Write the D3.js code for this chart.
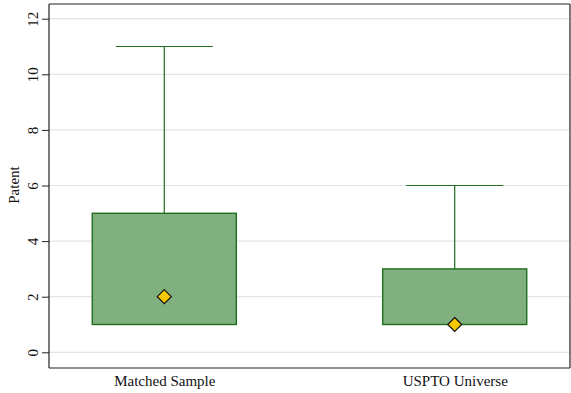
<!DOCTYPE html>
<html>
<head>
<meta charset="utf-8">
<script src="https://cdn.jsdelivr.net/npm/d3@7"></script>
<style>
  html, body { margin: 0; padding: 0; background: #fff; }
  svg { display: block; font-family: "Liberation Serif", "Times New Roman", serif; }
</style>
</head>
<body>
<svg id="chart" width="571" height="393"></svg>
<script>
// Box plot summary per group
const categories = ["Matched Sample", "USPTO Universe"];
const lowerWhisker = [1, 1];
const q1 = [1, 1];
const q3 = [5, 3];
const upperWhisker = [11, 6];
const medians = [2, 1];
const yTicks = [0, 2, 4, 6, 8, 10, 12];

const svg = d3.select("#chart");
const frame = { left: 49, right: 570, top: 4, bottom: 368 };

const y = d3.scaleLinear().domain([0, 12]).range([352.3, 18.7]);
const x = d3.scalePoint().domain(categories).range([frame.left, frame.right]).padding(0.397);
const step = x.step();
const boxW = step * 0.496;
const capW = step * 0.334;

// gridlines
svg.append("g").selectAll("line").data(yTicks).join("line")
  .attr("x1", frame.left).attr("x2", frame.right)
  .attr("y1", d => y(d)).attr("y2", d => y(d))
  .attr("stroke", "#e4e4e4").attr("stroke-width", 1.2);

const data = categories.map((c, i) => ({
  c, lo: lowerWhisker[i], q1: q1[i], q3: q3[i], hi: upperWhisker[i], med: medians[i]
}));

const g = svg.append("g");
const green = "#1e6e1e";

// whiskers
g.selectAll(".whisker").data(data).join("line")
  .attr("x1", d => x(d.c)).attr("x2", d => x(d.c))
  .attr("y1", d => y(d.q3)).attr("y2", d => y(d.hi))
  .attr("stroke", green).attr("stroke-width", 1.2);
g.selectAll(".cap").data(data).join("line")
  .attr("x1", d => x(d.c) - capW / 2).attr("x2", d => x(d.c) + capW / 2)
  .attr("y1", d => y(d.hi)).attr("y2", d => y(d.hi))
  .attr("stroke", green).attr("stroke-width", 1.2);

// boxes
g.selectAll(".box").data(data).join("rect")
  .attr("x", d => x(d.c) - boxW / 2)
  .attr("width", boxW)
  .attr("y", d => y(d.q3))
  .attr("height", d => y(d.q1) - y(d.q3))
  .attr("fill", "#80b080")
  .attr("stroke", green).attr("stroke-width", 1.4);

// median markers
const dia = 7;
g.selectAll(".med").data(data).join("path")
  .attr("d", d => {
    const cx = x(d.c), cy = y(d.med);
    return `M${cx},${cy - dia}L${cx + dia},${cy}L${cx},${cy + dia}L${cx - dia},${cy}Z`;
  })
  .attr("fill", "#f6c800").attr("stroke", "#111").attr("stroke-width", 1.2);

// frame
svg.append("line").attr("x1", frame.left).attr("x2", frame.right)
  .attr("y1", frame.top).attr("y2", frame.top).attr("stroke", "#222").attr("stroke-width", 1.2);
svg.append("line").attr("x1", frame.right).attr("x2", frame.right)
  .attr("y1", frame.top).attr("y2", frame.bottom).attr("stroke", "#222").attr("stroke-width", 1.2);

// y axis
const yAxis = svg.append("g").attr("transform", `translate(${frame.left},0)`)
  .call(d3.axisLeft(y).tickValues(yTicks).tickSize(7).tickPadding(0).tickFormat(d3.format("d")));
yAxis.select(".domain").remove();
yAxis.append("line").attr("x1", 0).attr("x2", 0).attr("y1", frame.top).attr("y2", frame.bottom)
  .attr("stroke", "#222").attr("stroke-width", 1.2);
yAxis.selectAll(".tick line").attr("stroke", "#222");
yAxis.selectAll(".tick text")
  .attr("x", 0).attr("dy", null)
  .attr("transform", "translate(-16.5,0) rotate(-90)")
  .attr("text-anchor", "middle").attr("dominant-baseline", "central")
  .attr("font-size", 15).attr("font-family", "Liberation Serif, serif").attr("fill", "#111");

// x axis
const xAxis = svg.append("g").attr("transform", `translate(0,${frame.bottom})`)
  .call(d3.axisBottom(x).tickSize(0).tickPadding(7));
xAxis.select(".domain").remove();
xAxis.append("line").attr("x1", frame.left).attr("x2", frame.right)
  .attr("stroke", "#222").attr("stroke-width", 1.2);
xAxis.selectAll(".tick text")
  .attr("font-size", 15).attr("font-family", "Liberation Serif, serif").attr("fill", "#111");

// y axis title
svg.append("text")
  .attr("transform", `translate(14,185) rotate(-90)`)
  .attr("text-anchor", "middle").attr("dominant-baseline", "central")
  .attr("font-size", 15).attr("fill", "#111")
  .text("Patent");
</script>
</body>
</html>
